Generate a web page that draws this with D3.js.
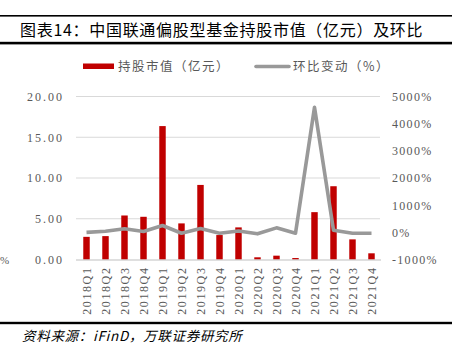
<!DOCTYPE html>
<html><head><meta charset="utf-8">
<script src="https://cdn.jsdelivr.net/npm/d3@7"></script>
<style>
body{margin:0;background:#fff;}
svg{display:block;}
</style></head>
<body>
<svg id="c" width="452" height="357"></svg>
<script>
const categories = ["2018Q1","2018Q2","2018Q3","2018Q4","2019Q1","2019Q2","2019Q3","2019Q4","2020Q1","2020Q2","2020Q3","2020Q4","2021Q1","2021Q2","2021Q3","2021Q4"];
const holdValue = [2.78,2.87,5.40,5.24,16.37,4.43,9.15,3.00,3.94,0.27,0.47,0.18,5.81,8.99,2.47,0.76];
const qoqChange = [0,40,129,29,250,-33,140,-33,48,-55,165,-33,4600,77,-33,-33];
const leftTicks = [0,5,10,15,20];
const rightTicks = [-1000,0,1000,2000,3000,4000,5000];
const titleText = "图表14：中国联通偏股型基金持股市值（亿元）及环比";
const legendBar = "持股市值（亿元）";
const legendLine = "环比变动（%）";
const sourceText = "资料来源：iFinD，万联证券研究所";

const svg = d3.select("#c");
const W = 452;
const cjk = "'Noto Sans CJK SC','Noto Sans',sans-serif";
const num = "'Liberation Serif','DejaVu Serif',serif";

// frame lines
svg.append("rect").attr("x",0).attr("y",15).attr("width",W).attr("height",1.6).attr("fill","#000");
svg.append("rect").attr("x",0).attr("y",41.8).attr("width",W).attr("height",2.6).attr("fill","#000");
svg.append("rect").attr("x",0).attr("y",321.8).attr("width",W).attr("height",2.4).attr("fill","#000");

svg.append("text").attr("x",20).attr("y",36).attr("font-family",cjk).attr("font-size",16)
  .attr("letter-spacing","0.7px").attr("fill","#000").text(titleText);

svg.append("text").attr("x",22).attr("y",341).attr("font-family",cjk).attr("font-size",13.5)
  .attr("letter-spacing","0.7px").attr("font-style","italic").attr("fill","#000").text(sourceText);

// plot scales
const x = d3.scaleBand().domain(categories).range([77,381]).paddingInner(0.66).paddingOuter(0.33);
const yL = d3.scaleLinear().domain([0,20]).range([259.5,96.5]);
const yR = d3.scaleLinear().domain([-1000,5000]).range([259.5,96.5]);

// gridlines
svg.append("g").selectAll("line").data(leftTicks.filter(d=>d>0)).join("line")
  .attr("x1",76).attr("x2",380).attr("y1",d=>yL(d)).attr("y2",d=>yL(d))
  .attr("stroke","#d9d9d9").attr("stroke-width",1);

// left axis
const gL = svg.append("g").attr("transform","translate(70,0)")
  .call(d3.axisLeft(yL).tickValues(leftTicks).tickSize(0).tickPadding(6).tickFormat(d3.format(".2f")));
gL.select(".domain").remove();
gL.selectAll("text").attr("font-family",num).attr("font-size",12).attr("letter-spacing","2px").attr("fill","#595959");

// right axis
const gR = svg.append("g").attr("transform","translate(386,0)")
  .call(d3.axisRight(yR).tickValues(rightTicks).tickSize(0).tickPadding(6).tickFormat(d=>d+"%"));
gR.select(".domain").remove();
gR.selectAll("text").attr("font-family",num).attr("font-size",12).attr("letter-spacing","1.3px").attr("fill","#595959");

// bars
svg.append("g").selectAll("rect").data(categories).join("rect")
  .attr("x",d=>x(d)).attr("width",x.bandwidth())
  .attr("y",(d,i)=>yL(holdValue[i])).attr("height",(d,i)=>yL(0)-yL(holdValue[i]))
  .attr("fill","#c00000");

// x axis
const gX = svg.append("g").attr("transform","translate(0,259.5)")
  .call(d3.axisBottom(x).tickSize(0).tickPadding(0));
gX.select(".domain").attr("stroke","#bfbfbf").attr("d","M76,0.5H381");
gX.selectAll("text").attr("font-family",num).attr("font-size",12).attr("letter-spacing","1.6px").attr("fill","#595959")
  .attr("transform","rotate(-90)").attr("text-anchor","end").attr("dx","-7").attr("dy","0.35em").attr("y",0);

// line
const line = d3.line().x((d,i)=>x(categories[i])+x.bandwidth()/2).y(d=>yR(d));
svg.append("path").datum(qoqChange).attr("d",line).attr("fill","none")
  .attr("stroke","#999999").attr("stroke-width",3.6).attr("stroke-linejoin","round");

// legend
svg.append("rect").attr("x",83).attr("y",63.5).attr("width",31).attr("height",5.5).attr("fill","#c00000");
svg.append("text").attr("x",118).attr("y",71).attr("font-family",cjk).attr("font-size",12.5)
  .attr("letter-spacing","1.5px").attr("fill","#595959").text(legendBar);
svg.append("line").attr("x1",256).attr("x2",289).attr("y1",66.5).attr("y2",66.5)
  .attr("stroke","#999999").attr("stroke-width",3.6).attr("stroke-linecap","round");
svg.append("text").attr("x",293).attr("y",71).attr("font-family",cjk).attr("font-size",12.5)
  .attr("letter-spacing","1.5px").attr("fill","#595959").text(legendLine);

// remnant mark at left edge
svg.append("text").attr("x",0).attr("y",264).attr("font-family",num).attr("font-size",11).attr("fill","#595959").text("%");
</script>
</body></html>
